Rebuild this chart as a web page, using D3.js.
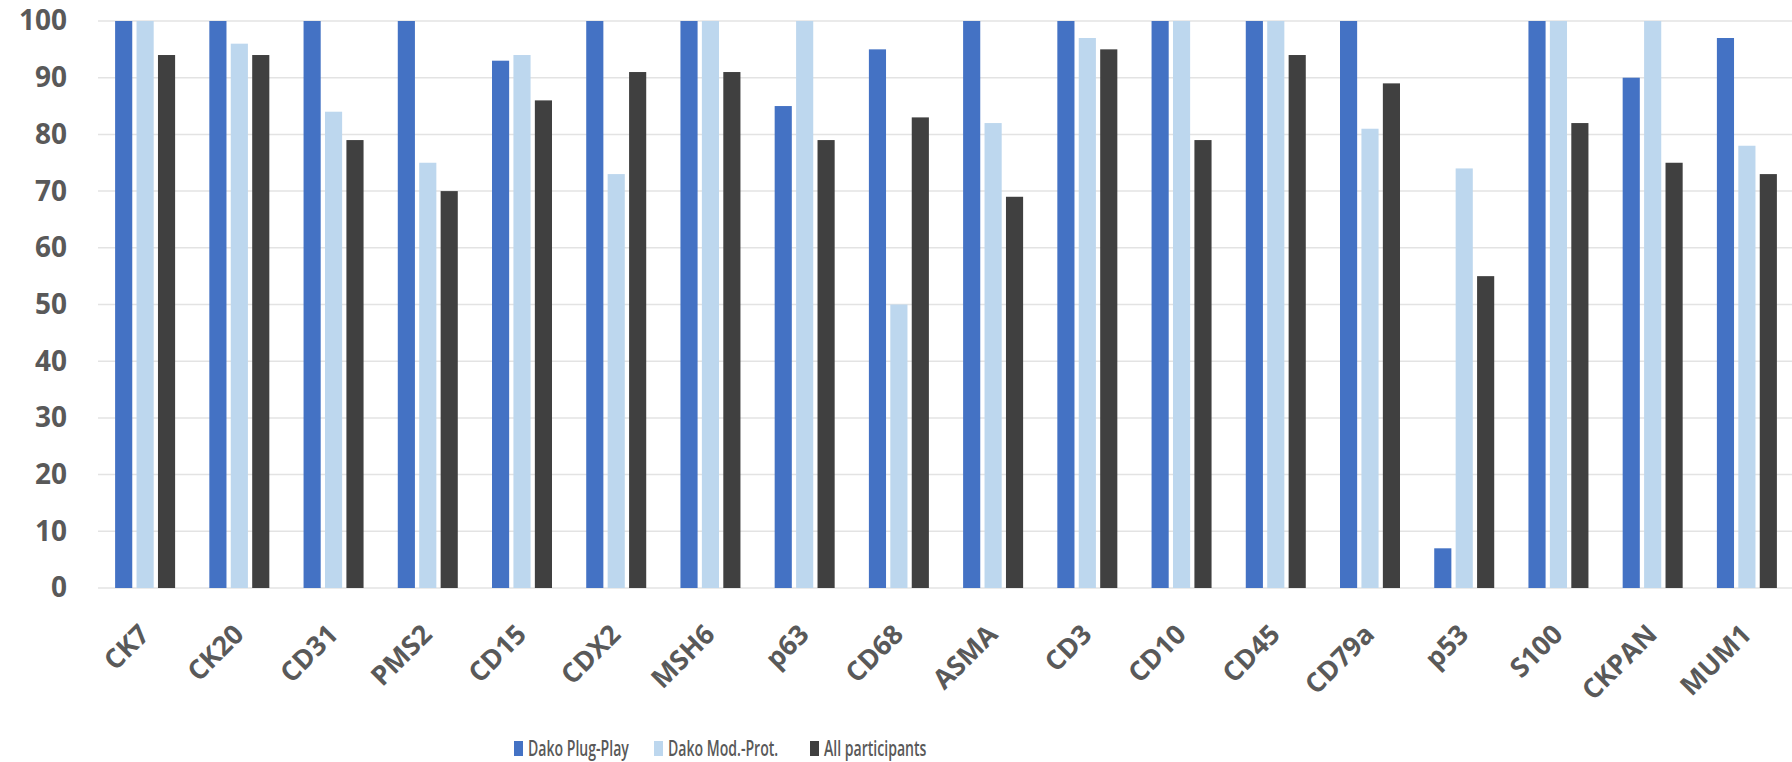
<!DOCTYPE html>
<html>
<head>
<meta charset="utf-8">
<script src="https://cdn.jsdelivr.net/npm/d3@7/dist/d3.min.js"></script>
<style>
  html, body { margin: 0; padding: 0; background: #fff; }
  svg { display: block; }
</style>
</head>
<body>
<script>
// data
const markers = ['CK7', 'CK20', 'CD31', 'PMS2', 'CD15', 'CDX2', 'MSH6', 'p63', 'CD68',
  'ASMA', 'CD3', 'CD10', 'CD45', 'CD79a', 'p53', 'S100', 'CKPAN', 'MUM1']
const plugPlay = [100, 100, 100, 100, 93, 100, 100, 85, 95, 100, 100, 100, 100, 100, 7, 100, 90, 97]
const modProt = [100, 96, 84, 75, 94, 73, 100, 100, 50, 82, 97, 100, 100, 81, 74, 100, 100, 78]
const allParticipants = [94, 94, 79, 70, 86, 91, 91, 79, 83, 69, 95, 79, 94, 89, 55, 82, 75, 73]
const seriesNames = ['Dako Plug-Play', 'Dako Mod.-Prot.', 'All participants']
const yTicks = [0, 10, 20, 30, 40, 50, 60, 70, 80, 90, 100]

const series = [
  {name: seriesNames[0], values: plugPlay, color: '#4472C4'},
  {name: seriesNames[1], values: modProt, color: '#BDD7EE'},
  {name: seriesNames[2], values: allParticipants, color: '#404040'}
]

const width = 1792
const height = 762
const margin = {top: 21, right: -2, bottom: 174, left: 98}
const textColor = '#595959'
const font = '"Open Sans", "DejaVu Sans", sans-serif'

const svg = d3.select('body').append('svg')
  .attr('width', width)
  .attr('height', height)

const x0 = d3.scaleBand()
  .domain(markers)
  .range([margin.left, width - margin.right])

const groupW = 60
const x1 = d3.scaleBand()
  .domain(seriesNames)
  .range([(x0.bandwidth() - groupW) / 2, (x0.bandwidth() + groupW) / 2])
  .paddingInner(0.2)

const y = d3.scaleLinear()
  .domain([0, 100])
  .range([height - margin.bottom, margin.top])

// gridlines
svg.append('g')
  .selectAll('line')
  .data(yTicks)
  .join('line')
  .attr('x1', margin.left)
  .attr('x2', width - margin.right)
  .attr('y1', (d) => y(d))
  .attr('y2', (d) => y(d))
  .attr('stroke', '#E3E3E3')
  .attr('stroke-width', 1.5)

// y axis labels
const yAxis = svg.append('g')
  .attr('transform', `translate(${margin.left - 31},0)`)
  .call(d3.axisLeft(y).tickValues(yTicks).tickSize(0).tickPadding(0))
yAxis.select('.domain').remove()
yAxis.selectAll('text')
  .attr('fill', textColor)
  .style('font-family', font)
  .style('font-size', '28px')
  .style('font-weight', 'bold')

// bars
const groups = svg.append('g')
  .selectAll('g')
  .data(markers)
  .join('g')
  .attr('transform', (d) => `translate(${x0(d)},0)`)

groups.selectAll('rect')
  .data((d, i) => series.map((s) => ({name: s.name, value: s.values[i], color: s.color})))
  .join('rect')
  .attr('x', (d) => x1(d.name))
  .attr('width', x1.bandwidth())
  .attr('y', (d) => y(d.value))
  .attr('height', (d) => y(0) - y(d.value))
  .attr('fill', (d) => d.color)

// x axis labels, rotated
const xAxis = svg.append('g')
  .attr('transform', `translate(6,${y(0) + 48})`)
  .call(d3.axisBottom(x0).tickSize(0).tickPadding(0))
xAxis.select('.domain').remove()
xAxis.selectAll('text')
  .attr('fill', textColor)
  .attr('text-anchor', 'end')
  .attr('dy', 0)
  .attr('transform', 'rotate(-45)')
  .style('font-family', font)
  .style('font-size', '27px')
  .style('font-weight', 'bold')

// legend
const legendX = [514, 654, 810]
const legend = svg.append('g')
  .selectAll('g')
  .data(series)
  .join('g')
  .attr('transform', (d, i) => `translate(${legendX[i]},741)`)

legend.append('rect')
  .attr('width', 9)
  .attr('height', 15)
  .attr('fill', (d) => d.color)

legend.append('text')
  .attr('transform', 'translate(14,15) scale(0.64,1)')
  .attr('fill', textColor)
  .style('font-family', font)
  .style('font-size', '22px')
  .style('font-weight', 600)
  .text((d) => d.name)
</script>
</body>
</html>
